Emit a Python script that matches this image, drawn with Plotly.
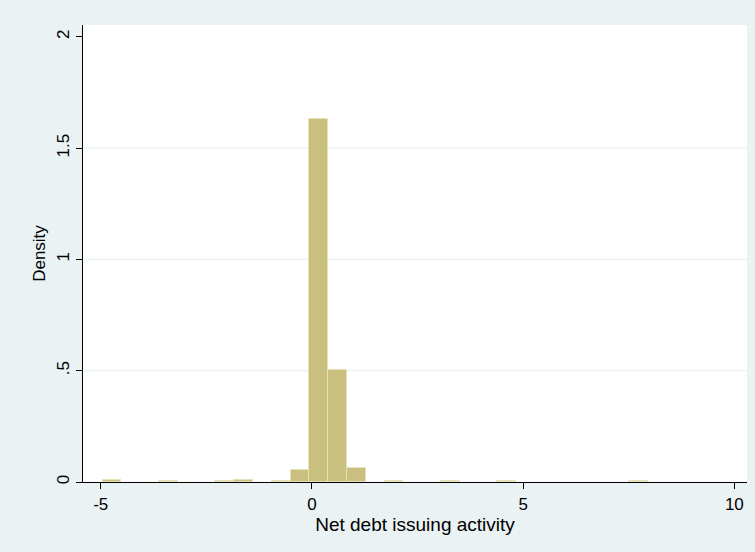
import plotly.graph_objects as go

# Histogram of net debt issuing activity (density scale, bin width 0.445)
bin_centers = [-4.7305, -3.3955, -2.0605, -1.6155, -0.7255, -0.2805, 0.1645,
               0.6095, 1.0545, 1.9445, 3.2795, 4.6145, 7.7295]
density = [0.011, 0.006, 0.006, 0.008, 0.006, 0.053, 1.630,
           0.505, 0.063, 0.006, 0.006, 0.006, 0.006]
bin_width = 0.445

x_ticks = [-5, 0, 5, 10]
x_tick_text = ["-5", "0", "5", "10"]
y_ticks = [0, 0.5, 1, 1.5, 2]
y_tick_text = ["0", ".5", "1", "1.5", "2"]
y_grid = [0.5, 1, 1.5]

FONT = "Liberation Sans, Arial, Helvetica, sans-serif"
BG = "#EAF2F3"

fig = go.Figure()
fig.add_trace(go.Bar(
    x=bin_centers,
    y=density,
    width=[bin_width] * len(bin_centers),
    marker=dict(color="#C9C07F", line=dict(color="#E6E1B8", width=1)),
    showlegend=False,
))

for g in y_grid:
    fig.add_shape(type="line", xref="paper", x0=0, x1=1, yref="y", y0=g, y1=g,
                  line=dict(color=BG, width=1.2), layer="below")

fig.update_layout(
    width=755, height=552,
    margin=dict(l=83, r=8, t=25, b=70),
    paper_bgcolor=BG,
    plot_bgcolor="white",
    font=dict(family=FONT, size=18, color="black"),
    bargap=0,
    xaxis=dict(
        range=[-5.419, 10.30],
        tickvals=x_ticks, ticktext=x_tick_text,
        showgrid=False, zeroline=False,
        showline=True, linecolor="black", linewidth=1.3,
        ticks="outside", ticklen=6, tickcolor="black", tickwidth=1,
        title=dict(text="Net debt issuing activity", standoff=4,
                   font=dict(size=19)),
        tickfont=dict(size=17),
    ),
    yaxis=dict(
        range=[0, 2.053],
        tickvals=y_ticks, ticktext=y_tick_text,
        tickangle=-90,
        showgrid=False, zeroline=False,
        showline=True, linecolor="black", linewidth=1.3,
        ticks="outside", ticklen=6, tickcolor="black", tickwidth=1,
        title=dict(text="Density", standoff=4, font=dict(size=17)),
        tickfont=dict(size=17),
    ),
)

fig.write_html("out.html")
